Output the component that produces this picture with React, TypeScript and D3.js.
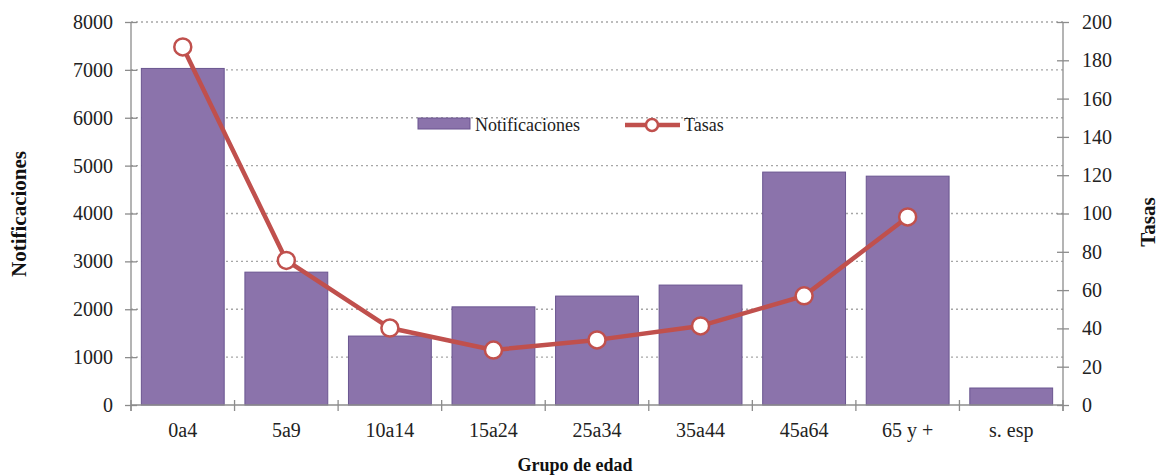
import React, { useEffect, useRef } from "react";
import * as d3 from "d3";

const categories = ["0a4", "5a9", "10a14", "15a24", "25a34", "35a44", "45a64", "65 y +", "s. esp"];
const notificaciones = [7030, 2775, 1440, 2050, 2275, 2505, 4865, 4780, 355];
const tasas: (number | null)[] = [187, 75.5, 40.2, 28.7, 34, 41.3, 57, 98.2, null];
const leftTicks = [0, 1000, 2000, 3000, 4000, 5000, 6000, 7000, 8000];
const rightTicks = [0, 20, 40, 60, 80, 100, 120, 140, 160, 180, 200];

const W = 1161;
const H = 476;
const font = "\"Liberation Serif\", \"Times New Roman\", Tinos, \"DejaVu Serif\", serif";

function Chart() {
  const ref = useRef<SVGSVGElement>(null);

  useEffect(() => {
    document.body.style.margin = "0";
    document.body.style.overflow = "hidden";
    const svg = d3.select(ref.current);
    svg.selectAll("*").remove();

    const left = 131, right = 1063, top = 22, bottom = 405;
    const axisColor = "#8c8c8c";

    const x = d3.scaleBand().domain(categories).range([left, right]).paddingInner(0.2).paddingOuter(0.1);
    const yL = d3.scaleLinear().domain([0, 8000]).range([bottom, top]);
    const yR = d3.scaleLinear().domain([0, 200]).range([bottom, top]);

    // grid
    svg.append("g").selectAll("line")
      .data(leftTicks.filter(d => d > 0))
      .enter().append("line")
      .attr("x1", left).attr("x2", right)
      .attr("y1", d => yL(d)).attr("y2", d => yL(d))
      .attr("stroke", "#a6a6a6").attr("stroke-width", 1.3)
      .attr("stroke-dasharray", "2,3");

    // bars
    svg.append("g").selectAll("rect")
      .data(notificaciones)
      .enter().append("rect")
      .attr("x", (d, i) => x(categories[i])!)
      .attr("width", x.bandwidth())
      .attr("y", d => yL(d))
      .attr("height", d => bottom - yL(d))
      .attr("fill", "#8b73ab")
      .attr("stroke", "#6a5590")
      .attr("stroke-width", 1);

    // left and right axes
    const gl = svg.append("g").attr("transform", `translate(${left},0)`)
      .call(d3.axisLeft(yL).tickValues(leftTicks).tickFormat(d3.format("d")).tickSize(6).tickSizeOuter(0).tickPadding(12));
    const gr = svg.append("g").attr("transform", `translate(${right},0)`)
      .call(d3.axisRight(yR).tickValues(rightTicks).tickFormat(d3.format("d")).tickSize(6).tickSizeOuter(0).tickPadding(13));

    // bottom axis
    const tickXs = d3.range(categories.length + 1).map(i => left + i * (right - left) / categories.length);
    const gb = svg.append("g");
    gb.append("line").attr("x1", left).attr("x2", right).attr("y1", bottom).attr("y2", bottom)
      .attr("stroke", axisColor).attr("stroke-width", 1.3);
    gb.selectAll("line.t").data(tickXs).enter().append("line").attr("class", "t")
      .attr("x1", d => d).attr("x2", d => d).attr("y1", bottom - 5).attr("y2", bottom + 6)
      .attr("stroke", axisColor).attr("stroke-width", 1.3);
    gb.selectAll("text").data(categories).enter().append("text")
      .attr("x", d => x(d)! + x.bandwidth() / 2)
      .attr("y", bottom + 32)
      .attr("text-anchor", "middle")
      .attr("class", "tick-lbl")
      .text(d => d);

    [gl, gr].forEach(g => {
      g.attr("font-family", null).attr("font-size", null);
      g.select(".domain").attr("stroke", axisColor).attr("stroke-width", 1.3);
      g.selectAll(".tick line").attr("stroke", axisColor).attr("stroke-width", 1.3);
      g.selectAll(".tick text").attr("class", "tick-lbl");
    });
    // ticks crossing the axis
    gl.selectAll(".tick line").attr("x1", 6).attr("x2", -6);
    gr.selectAll(".tick line").attr("x1", -6).attr("x2", 6);
    gl.select(".domain").attr("d", `M0,${top}V${bottom + 6}`);
    gr.select(".domain").attr("d", `M0,${top}V${bottom + 6}`);

    // line
    const pts = tasas.map((v, i) => ({ v, c: categories[i] })).filter(p => p.v !== null) as { v: number; c: string }[];
    const line = d3.line<{ v: number; c: string }>()
      .x(d => x(d.c)! + x.bandwidth() / 2)
      .y(d => yR(d.v));
    svg.append("path").datum(pts).attr("d", line)
      .attr("fill", "none").attr("stroke", "#c0504d").attr("stroke-width", 4.5)
      .attr("stroke-linejoin", "round");
    svg.append("g").selectAll("circle").data(pts).enter().append("circle")
      .attr("cx", d => x(d.c)! + x.bandwidth() / 2)
      .attr("cy", d => yR(d.v))
      .attr("r", 8.5)
      .attr("fill", "#fff").attr("stroke", "#c0504d").attr("stroke-width", 2.5);

    // legend
    const lg = svg.append("g");
    lg.append("rect").attr("x", 418).attr("y", 118).attr("width", 52).attr("height", 11)
      .attr("fill", "#8b73ab").attr("stroke", "#6a5590");
    lg.append("text").attr("x", 475).attr("y", 131).attr("class", "lbl").text("Notificaciones");
    lg.append("line").attr("x1", 625).attr("x2", 680).attr("y1", 125).attr("y2", 125)
      .attr("stroke", "#c0504d").attr("stroke-width", 4.5);
    lg.append("circle").attr("cx", 652).attr("cy", 125).attr("r", 6)
      .attr("fill", "#fff").attr("stroke", "#c0504d").attr("stroke-width", 2.5);
    lg.append("text").attr("x", 684).attr("y", 131).attr("class", "lbl").text("Tasas");

    // axis titles
    svg.append("text").attr("transform", `translate(26,214) rotate(-90)`)
      .attr("text-anchor", "middle").attr("class", "ttl-v").text("Notificaciones");
    svg.append("text").attr("transform", `translate(1155,222) rotate(-90)`)
      .attr("text-anchor", "middle").attr("class", "ttl-v").text("Tasas");
    svg.append("text").attr("x", 575).attr("y", 471)
      .attr("text-anchor", "middle").attr("class", "ttl").text("Grupo de edad");
  }, []);

  return <svg ref={ref} width={W} height={H} style={{ display: "block" }} />;
}

const css = `
.tick-lbl { font-family: ${font}; font-size: 20px; fill: #222; }
.lbl { font-family: ${font}; font-size: 18px; fill: #222; }
.ttl { font-family: ${font}; font-size: 18px; font-weight: bold; fill: #111; }
.ttl-v { font-family: ${font}; font-size: 21px; font-weight: bold; fill: #111; }
`;

export default function App() {
  return (
    <>
      <style>{css}</style>
      <Chart />
    </>
  );
}
